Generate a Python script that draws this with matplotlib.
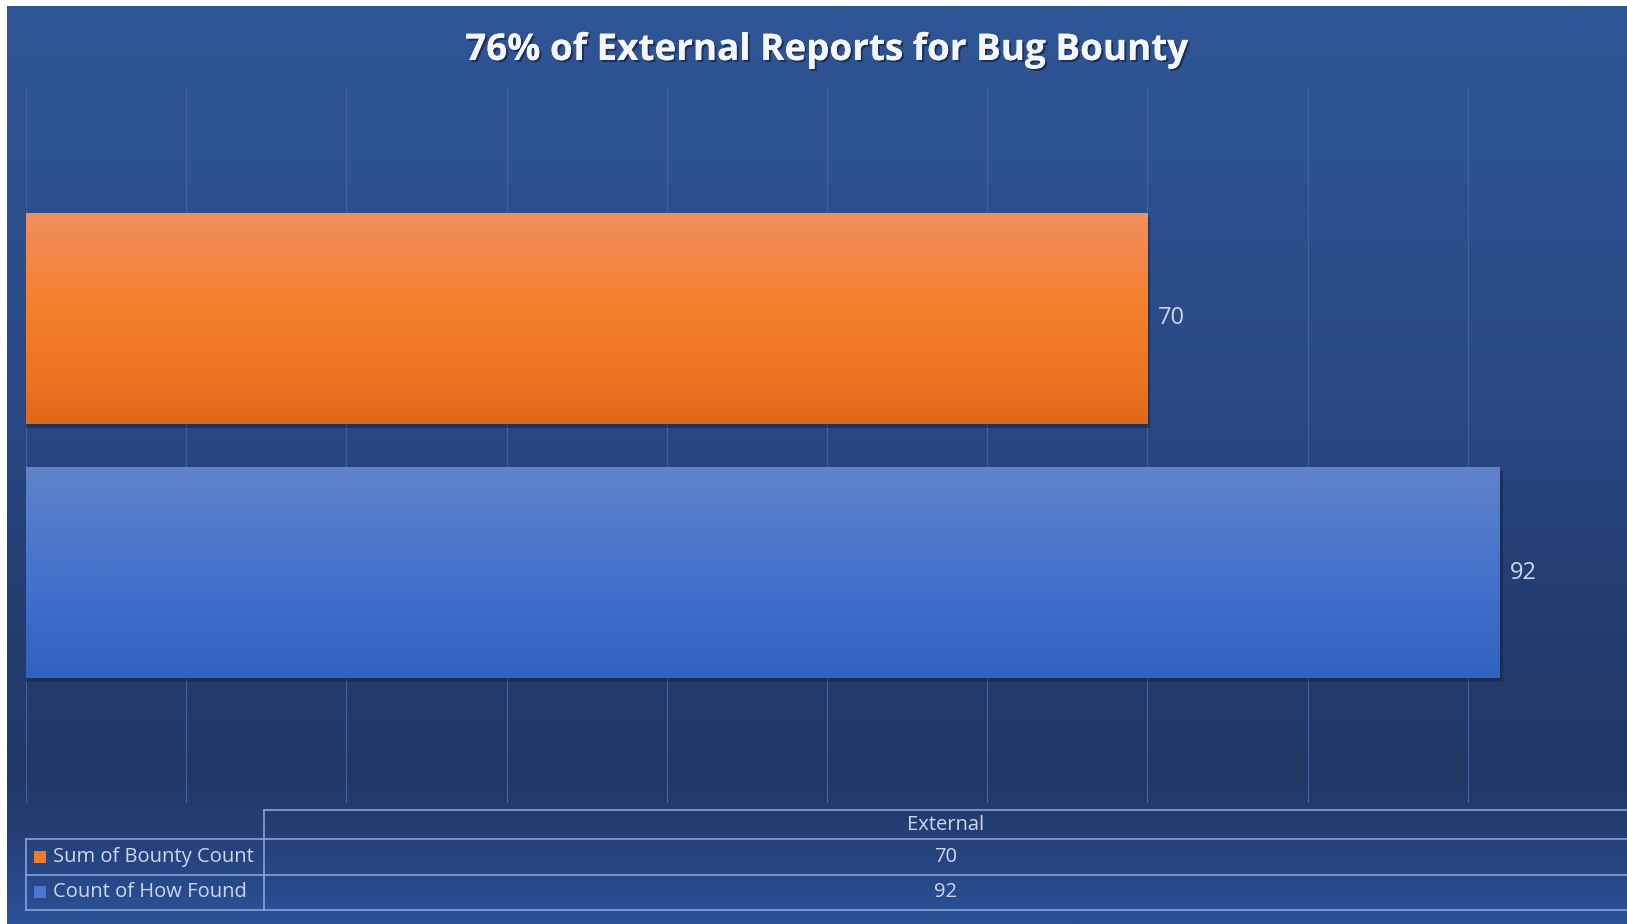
import numpy as np
import matplotlib
matplotlib.use("Agg")
import matplotlib.pyplot as plt
from matplotlib import patheffects as pe
from matplotlib.colors import to_rgb
from matplotlib.patches import Rectangle

# ---- data ----
title = "76% of External Reports for Bug Bounty"
category = "External"
series_names = ["Sum of Bounty Count", "Count of How Found"]
series_values = [70, 92]
x_ticks = list(range(0, 101, 10))

# ---- styling ----
plt.rcParams["font.family"] = ["Open Sans", "DejaVu Sans"]
W, H = 1627, 924
TEXT = "#cdd8ee"
GRID = "#41619c"
TABLE_LINE = "#86a3d8"
series_grads = [
    [(0.0, "#ee905e"), (0.12, "#f28a50"), (0.45, "#f57f2b"), (0.8, "#ec7320"), (1.0, "#e1681a")],
    [(0.0, "#6083c9"), (0.3, "#5079cb"), (0.6, "#416fcb"), (1.0, "#2f62c1")],
]
swatch_colors = ["#f07a26", "#4a78cf"]


def vgrad(stops, n=256):
    pos = [s[0] for s in stops]
    cols = np.array([to_rgb(s[1]) for s in stops])
    t = np.linspace(0, 1, n)
    arr = np.stack([np.interp(t, pos, cols[:, i]) for i in range(3)], axis=-1)
    return arr[:, None, :]


fig = plt.figure(figsize=(W / 100, H / 100), dpi=100)
fig.patch.set_facecolor("white")


def fx(x):
    return x / W


def fy(y):
    return 1 - y / H


# background panel with vertical gradient
bg = fig.add_axes([fx(7), 0, 1 - fx(7), fy(6)])
bg.imshow(vgrad([(0.0, "#2f5596"), (0.16, "#2d5290"), (0.43, "#294985"),
                 (0.65, "#233e71"), (0.84, "#213866"), (0.90, "#243f75"),
                 (0.95, "#274888"), (1.0, "#2b5297")]),
          aspect="auto", extent=(0, 1, 0, 1), origin="upper", interpolation="bilinear")
bg.set_axis_off()

# plot area
ax = fig.add_axes([fx(26), fy(803), fx(1628) - fx(26), fy(88) - fy(803)])
ax.set_facecolor("none")
ax.set_xlim(0, 100)
ax.set_ylim(-0.5, 0.5)
ax.set_xticks(x_ticks)
ax.set_yticks([])
ax.tick_params(axis="x", length=0, labelbottom=False)
ax.grid(axis="x", color=GRID, linewidth=0.9, zorder=0)
for s in ax.spines.values():
    s.set_visible(False)

bar_h = 0.295
offsets = [0.178, -0.178]
px_x = 100 / 1602
px_y = 1 / 715
for val, off, grad in zip(series_values, offsets, series_grads):
    y0, y1 = off - bar_h / 2, off + bar_h / 2
    # soft drop shadow
    ax.add_patch(Rectangle((0, y0 - 4 * px_y), val + 3 * px_x, bar_h,
                           facecolor="#111c36", alpha=0.45, edgecolor="none", zorder=2))
    ax.imshow(vgrad(grad), aspect="auto", extent=(0, val, y0, y1), origin="upper",
              interpolation="bilinear", zorder=3)
    ax.annotate(f"{val}", xy=(val, off), xytext=(7.5, 0), textcoords="offset points",
                ha="left", va="center", fontsize=17, color=TEXT, zorder=4)
ax.set_xlim(0, 100)
ax.set_ylim(-0.5, 0.5)

# overlay in pixel coordinates for title and data table
ov = fig.add_axes([0, 0, 1, 1])
ov.set_xlim(0, W)
ov.set_ylim(H, 0)
ov.set_axis_off()
ov.patch.set_visible(False)

ov.text(826, 60, title, ha="center", va="baseline", fontsize=26.5, fontweight="bold",
        color="#f4f6fa",
        path_effects=[pe.withSimplePatchShadow(offset=(1.5, -1.5), shadow_rgbFace="#0b1530", alpha=0.55),
                      pe.Normal()])

lw = 1.2
ov.plot([264, W], [810, 810], color=TABLE_LINE, lw=lw)
for yy in (839, 875, 910):
    ov.plot([26, W], [yy, yy], color=TABLE_LINE, lw=lw)
ov.plot([26, 26], [839, 910], color=TABLE_LINE, lw=lw)
ov.plot([264, 264], [810, 910], color=TABLE_LINE, lw=lw)

col_c = (264 + 1628) / 2
ov.text(col_c, 825, category, ha="center", va="center", fontsize=14.5, color=TEXT)
row_y = [857, 892]
for name, val, yy, sc in zip(series_names, series_values, row_y, swatch_colors):
    ov.add_patch(Rectangle((34, yy - 6), 12, 12, facecolor=sc, edgecolor="none"))
    ov.text(53, yy, name, ha="left", va="center", fontsize=14.5, color=TEXT)
    ov.text(col_c, yy, f"{val}", ha="center", va="center", fontsize=14.5, color=TEXT)

fig.savefig("out.png", dpi=100)
